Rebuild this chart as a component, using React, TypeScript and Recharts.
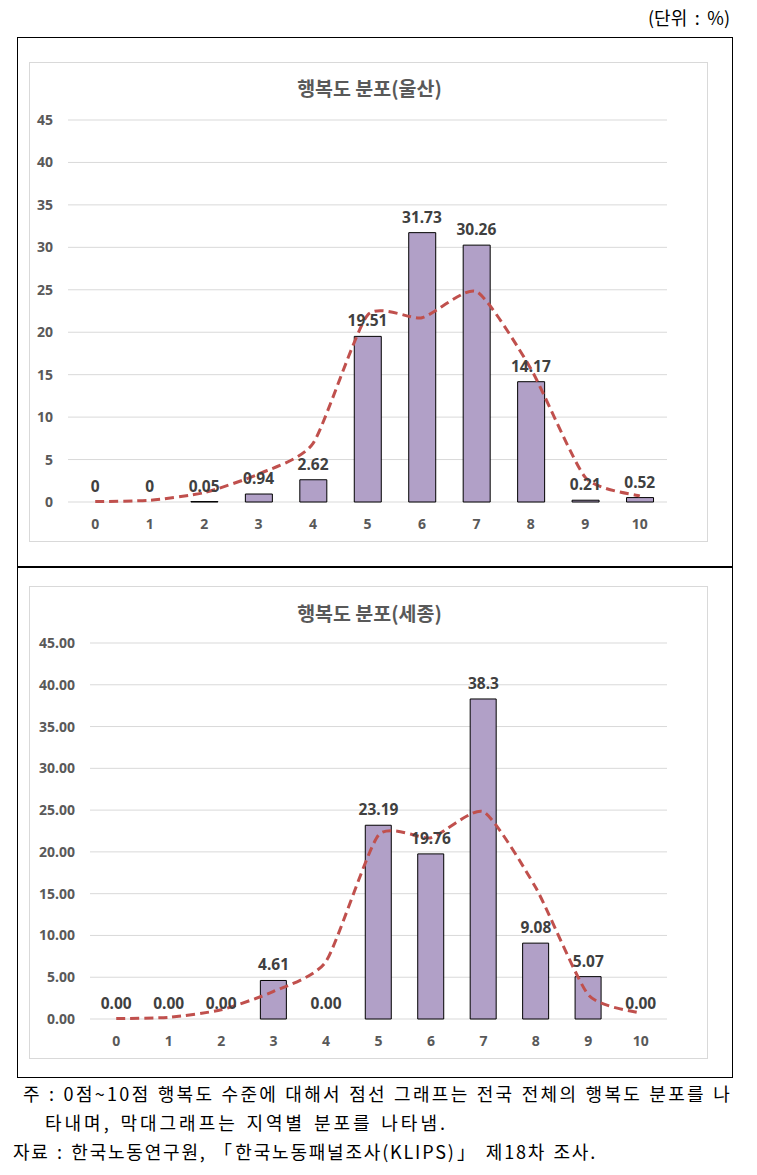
import React from 'react';
import { ComposedChart, Bar, Line, XAxis, YAxis, CartesianGrid, LabelList } from 'recharts';

const scores = ['0', '1', '2', '3', '4', '5', '6', '7', '8', '9', '10'];
const nationalDist = [0.05, 0.2, 1.1, 3.3, 6.9, 22.0, 21.7, 24.8, 15.7, 2.9, 0.7];
const ulsanValues = [0, 0, 0.05, 0.94, 2.62, 19.51, 31.73, 30.26, 14.17, 0.21, 0.52];
const ulsanLabels = ['0', '0', '0.05', '0.94', '2.62', '19.51', '31.73', '30.26', '14.17', '0.21', '0.52'];
const sejongValues = [0, 0, 0, 4.61, 0, 23.19, 19.76, 38.3, 9.08, 5.07, 0];
const sejongLabels = ['0.00', '0.00', '0.00', '4.61', '0.00', '23.19', '19.76', '38.3', '9.08', '5.07', '0.00'];
const yTicks = [0, 5, 10, 15, 20, 25, 30, 35, 40, 45];

const FONT = "'Noto Sans', 'Noto Sans CJK KR', sans-serif";
const KFONT = "'Noto Sans CJK KR', 'Noto Sans', sans-serif";

// Excel-style smoothed line (cardinal spline as cubic Bezier, reduced tension)
const K = 1 / 10;
const excelSmooth: any = (context: any) => {
  let pts: number[][] = [];
  return {
    areaStart() {},
    areaEnd() {},
    lineStart() {
      pts = [];
    },
    point(x: number, y: number) {
      pts.push([+x, +y]);
    },
    lineEnd() {
      const n = pts.length;
      if (!n) return;
      context.moveTo(pts[0][0], pts[0][1]);
      for (let i = 0; i < n - 1; i++) {
        const p0 = pts[Math.max(i - 1, 0)];
        const p1 = pts[i];
        const p2 = pts[i + 1];
        const p3 = pts[Math.min(i + 2, n - 1)];
        context.bezierCurveTo(
          p1[0] + (p2[0] - p0[0]) * K,
          p1[1] + (p2[1] - p0[1]) * K,
          p2[0] - (p3[0] - p1[0]) * K,
          p2[1] - (p3[1] - p1[1]) * K,
          p2[0],
          p2[1]
        );
      }
    },
  };
};

type PanelProps = {
  title: string;
  values: number[];
  labels: string[];
  leftFmt: (v: number) => string;
  top: number;
  height: number;
  leftWidth: number;
  plotTop: number;
  barSize: number;
  titleTop: number;
};

function Panel(p: PanelProps) {
  const data = scores.map((s, i) => ({ score: s, value: p.values[i], label: p.labels[i], nat: nationalDist[i] }));
  const W = 679;
  const tickStyle = { fill: '#595959', fontSize: 14, fontWeight: 700, fontFamily: FONT };
  return (
    <div
      style={{
        position: 'absolute',
        left: 29,
        top: p.top,
        width: W,
        height: p.height,
        border: '1px solid #D9D9D9',
        boxSizing: 'border-box',
        background: '#fff',
      }}
    >
      <div
        style={{
          position: 'absolute',
          left: 0,
          top: p.titleTop,
          width: W,
          textAlign: 'center',
          fontFamily: KFONT,
          fontWeight: 700,
          fontSize: 19.5,
          color: '#595959',
          lineHeight: '22px',
        }}
      >
        {p.title}
      </div>
      <div style={{ position: 'absolute', left: -1, top: -1 }}>
        <ComposedChart
          width={W}
          height={p.height}
          data={data}
          margin={{ top: p.plotTop, right: 0, bottom: 0, left: 0 }}
        >
          <CartesianGrid yAxisId="left" vertical={false} stroke="#D9D9D9" strokeWidth={1} />
          <XAxis
            dataKey="score"
            axisLine={false}
            tickLine={false}
            tickSize={0}
            tickMargin={17}
            height={40}
            interval={0}
            tick={tickStyle}
          />
          <YAxis
            yAxisId="left"
            orientation="left"
            domain={[0, 45]}
            ticks={yTicks}
            interval={0}
            width={p.leftWidth}
            axisLine={false}
            tickLine={false}
            tickSize={0}
            tickMargin={15}
            tickFormatter={p.leftFmt}
            tick={tickStyle}
          />
          <YAxis
            yAxisId="right"
            orientation="right"
            domain={[0, 45]}
            ticks={yTicks}
            interval={0}
            width={41}
            axisLine={false}
            tickLine={false}
            tickSize={0}
            tickMargin={16}
            tick={{ ...tickStyle, textAnchor: 'start' }}
          />
          <Bar
            yAxisId="left"
            dataKey="value"
            fill="#B1A0C7"
            stroke="#000"
            strokeWidth={1}
            barSize={p.barSize}
            isAnimationActive={false}
          />
          <Line
            yAxisId="left"
            dataKey="value"
            stroke="none"
            dot={false}
            activeDot={false}
            isAnimationActive={false}
          >
            <LabelList
              dataKey="label"
              position="top"
              offset={10}
              fill="#404040"
              fontSize={15.5}
              fontWeight={700}
              fontFamily={FONT}
            />
          </Line>
          <Line
            yAxisId="left"
            dataKey="nat"
            type={excelSmooth}
            stroke="#C0504D"
            strokeWidth={3}
            strokeDasharray="9 5"
            dot={false}
            activeDot={false}
            isAnimationActive={false}
          />
        </ComposedChart>
      </div>
    </div>
  );
}

const noteStyle: React.CSSProperties = {
  position: 'absolute',
  fontSize: 18,
  lineHeight: '22px',
  textAlign: 'justify',
  textAlignLast: 'justify',
  whiteSpace: 'nowrap',
};

export default function App() {
  return (
    <div
      style={{
        position: 'absolute',
        left: 0,
        top: 0,
        width: 757,
        height: 1175,
        background: '#fff',
        fontFamily: KFONT,
        color: '#000',
      }}
    >
      <div
        style={{
          position: 'absolute',
          left: 648,
          top: 7,
          width: 82,
          fontSize: 18,
          lineHeight: '20px',
          whiteSpace: 'nowrap',
          textAlign: 'justify',
          textAlignLast: 'justify',
        }}
      >
        (단위 : %)
      </div>
      <div
        style={{
          position: 'absolute',
          left: 17,
          top: 37,
          width: 716,
          height: 1041,
          border: '1.5px solid #000',
          boxSizing: 'border-box',
        }}
      />
      <div style={{ position: 'absolute', left: 17, top: 566, width: 716, height: 1.5, background: '#000' }} />
      <Panel
        title="행복도 분포(울산)"
        values={ulsanValues}
        labels={ulsanLabels}
        leftFmt={(v) => String(v)}
        top={62}
        height={480}
        leftWidth={39}
        plotTop={58}
        barSize={27}
        titleTop={14}
      />
      <Panel
        title="행복도 분포(세종)"
        values={sejongValues}
        labels={sejongLabels}
        leftFmt={(v) => v.toFixed(2)}
        top={586}
        height={473}
        leftWidth={61}
        plotTop={57}
        barSize={26}
        titleTop={15}
      />
      <div style={{ ...noteStyle, left: 23, top: 1082, width: 709, letterSpacing: 2.3 }}>
        주 : 0점~10점 행복도 수준에 대해서 점선 그래프는 전국 전체의 행복도 분포를 나
      </div>
      <div style={{ ...noteStyle, left: 45, top: 1111, width: 403, letterSpacing: 3 }}>
        타내며, 막대그래프는 지역별 분포를 나타냄.
      </div>
      <div style={{ ...noteStyle, left: 13, top: 1140, width: 584, letterSpacing: 1.8 }}>
        자료 : 한국노동연구원, 「한국노동패널조사(KLIPS)」 제18차 조사.
      </div>
    </div>
  );
}
